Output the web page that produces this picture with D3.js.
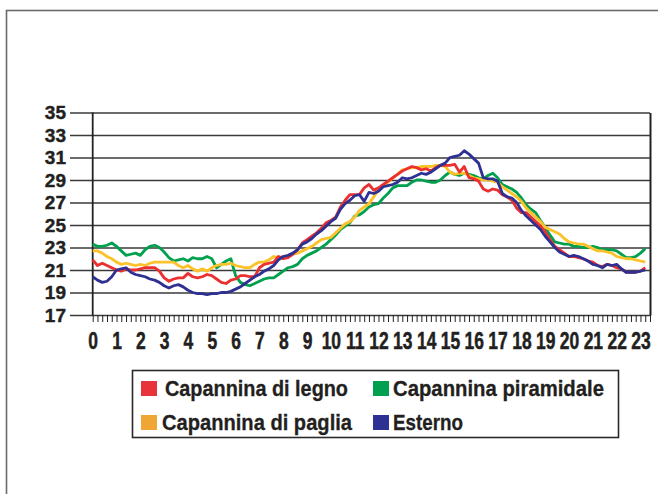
<!DOCTYPE html>
<html>
<head>
<meta charset="utf-8">
<script src="https://cdn.jsdelivr.net/npm/d3@7"></script>
<style>
  body { margin: 0; background: #fff; }
  svg { display: block; }
  .ylab text { font-family: "Liberation Sans", Arial, sans-serif; font-weight: bold; font-size: 19px; fill: #231f20; stroke: #231f20; stroke-width: 0.4px; }
  .xlab text { font-family: "Liberation Sans", Arial, sans-serif; font-weight: bold; font-size: 23px; fill: #231f20; stroke: #231f20; stroke-width: 0.5px; }
  .legend text { font-family: "Liberation Sans", Arial, sans-serif; font-weight: bold; font-size: 22px; fill: #231f20; stroke: #231f20; stroke-width: 0.3px; }
</style>
</head>
<body>
<script>
// hour labels along the x axis
var hourLabels = [0,1,2,3,4,5,6,7,8,9,10,11,12,13,14,15,16,17,18,19,20,21,22,23];
var yTicks = [17,19,21,23,25,27,29,31,33,35];

// readings every 12 minutes (0.2 h), from 0:00 to 23:12
var legno = [
  21.9,21.4,21.6,21.4,21.2, 21.0,20.9,21.1,21.0,21.0, 21.1,21.2,21.2,21.2,20.9,
  20.3,20.0,20.2,20.3,20.3, 20.7,20.4,20.3,20.4,20.6, 20.5,20.2,19.9,19.8,20.1,
  20.2,20.5,20.5,20.4,20.4, 21.2,21.5,21.6,21.7,22.2, 22.0,22.1,22.4,22.8,23.4,
  23.7,24.0,24.3,24.7,25.2, 25.4,25.7,26.6,27.2,27.7, 27.7,27.7,28.3,28.6,28.1,
  28.3,28.6,28.9,29.2,29.5, 29.8,30.0,30.2,30.1,29.9, 30.0,29.8,30.1,30.3,30.3,
  30.3,30.4,29.7,30.2,29.2, 29.1,28.9,28.2,28.0,28.2, 28.1,27.7,27.5,27.2,26.5,
  26.1,26.1,25.7,25.3,24.9, 24.4,23.7,23.1,22.8,22.5, 22.2,22.2,22.1,22.0,21.8,
  21.7,21.4,21.3,21.5,21.4, 21.2,21.1,20.8,20.8,20.8, 20.9,21.2
];
var piramidale = [
  23.3,23.1,23.1,23.2,23.4, 23.1,22.7,22.3,22.4,22.5, 22.3,22.8,23.1,23.2,23.0,
  22.6,22.1,21.8,21.9,22.0, 21.8,22.1,22.0,22.0,22.2, 22.0,21.2,21.5,21.8,22.0,
  20.5,19.9,19.7,19.6,19.8, 20.0,20.2,20.3,20.3,20.6, 20.9,21.2,21.3,21.5,22.0,
  22.3,22.5,22.7,23.0,23.3, 23.7,24.1,24.6,24.9,25.2, 25.8,25.9,26.2,26.6,26.8,
  26.9,27.4,27.8,28.3,28.5, 28.5,28.5,28.8,29.0,29.0, 28.9,28.8,28.8,29.0,29.4,
  29.7,29.5,29.4,29.6,29.5, 29.4,29.2,29.1,29.4,29.6, 29.2,28.6,28.4,28.2,27.9,
  27.4,26.8,26.4,26.1,25.4, 24.8,24.1,23.5,23.4,23.3, 23.3,23.1,23.1,23.0,23.0,
  23.1,23.0,22.8,22.8,22.8, 22.7,22.4,22.1,22.1,22.2, 22.5,22.9
];
var paglia = [
  22.7,22.7,22.5,22.2,22.0, 21.7,21.5,21.6,21.5,21.4, 21.5,21.4,21.6,21.7,21.7,
  21.7,21.7,21.7,21.4,21.2, 21.4,21.1,20.9,21.1,20.9, 21.2,21.4,21.5,21.5,21.6,
  21.4,21.3,21.2,21.2,21.5, 21.7,21.7,21.9,22.2,22.1, 22.2,22.2,22.4,22.5,22.7,
  22.9,23.1,23.4,23.7,23.8, 23.9,24.3,24.7,25.1,25.3, 25.7,26.3,26.6,26.9,27.5,
  28.1,28.5,28.8,29.2,29.5, 29.9,30.0,30.1,30.1,30.2, 30.2,30.2,30.3,30.3,30.2,
  29.7,29.5,29.6,29.6,29.4, 29.2,29.1,29.0,29.0,28.9, 28.8,28.4,28.1,27.8,27.5,
  27.1,26.5,26.1,25.7,25.3, 24.8,24.6,24.4,24.2,23.8, 23.5,23.4,23.3,23.3,23.1,
  22.9,22.7,22.7,22.6,22.5, 22.2,22.1,22.0,22.0,21.9, 21.8,21.7
];
var esterno = [
  20.4,20.1,19.9,20.0,20.4, 21.0,21.1,21.2,20.8,20.6, 20.5,20.4,20.2,20.1,19.9,
  19.6,19.4,19.6,19.7,19.5, 19.2,19.0,18.9,18.9,18.8, 18.9,18.9,19.0,19.0,19.1,
  19.3,19.5,19.8,20.1,20.4, 20.6,20.9,21.1,21.4,21.9, 22.2,22.3,22.5,22.8,23.3,
  23.5,23.8,24.2,24.5,24.9, 25.3,25.6,26.4,26.9,27.2, 27.6,27.7,27.1,27.9,27.8,
  28.0,28.4,28.5,28.6,28.8, 29.2,29.1,29.2,29.4,29.6, 29.5,29.7,30.0,30.3,30.5,
  31.0,31.1,31.2,31.6,31.3, 30.9,30.5,29.2,29.1,29.1, 28.9,27.8,27.5,27.4,27.0,
  26.3,25.8,25.4,25.0,24.6, 24.0,23.5,23.0,22.6,22.4, 22.2,22.3,22.2,22.0,21.8,
  21.5,21.4,21.2,21.5,21.4, 21.5,21.1,20.8,20.8,20.8, 20.9,21.0
];

var seriesNames = ["Capannina di legno", "Capannina piramidale", "Capannina di paglia", "Esterno"];
var lineColors = ["#ec2f2f", "#00a04f", "#fcc22a", "#2e3192"];
var swatchColors = ["#e8333a", "#00a050", "#efa635", "#2e3192"];

var width = 658, height = 494;

var svg = d3.select("body").append("svg")
    .attr("width", width)
    .attr("height", height);

// outer frame (only left and top edges fall inside the picture)
svg.append("rect")
    .attr("x", 6.5).attr("y", 10.5)
    .attr("width", 700).attr("height", 600)
    .attr("fill", "none")
    .attr("stroke", "#6a6a6a")
    .attr("stroke-width", 1.6);

var x = d3.scaleLinear().domain([0, 23.4]).range([92.7, 650]);
var y = d3.scaleLinear().domain([17, 35]).range([315, 112.5]);

var minorTicks = d3.range(0, 23.41, 0.2);

// gridlines + y labels, axis sits on the right border
svg.append("g")
    .attr("class", "ylab")
    .attr("transform", "translate(" + x(23.4) + ",0)")
    .call(d3.axisLeft(y).tickValues(yTicks).tickSize(x(23.4) - 70).tickSizeOuter(0).tickPadding(4))
    .call(function(g) {
        g.select(".domain").attr("stroke", "#222").attr("stroke-width", 2);
        g.selectAll(".tick line").attr("stroke", "#3a3a3a").attr("stroke-width", 1.6);
    });

// left axis line
svg.append("line")
    .attr("x1", x(0)).attr("x2", x(0))
    .attr("y1", y(35)).attr("y2", y(17))
    .attr("stroke", "#222").attr("stroke-width", 1.8);

// small ticks under the x axis
svg.append("g")
    .attr("transform", "translate(0," + y(17) + ")")
    .call(d3.axisBottom(x).tickValues(minorTicks).tickSize(7).tickFormat(""))
    .call(function(g) {
        g.select(".domain").remove();
        g.selectAll(".tick line").attr("stroke", "#222").attr("stroke-width", 1);
    });

// hour labels, squeezed like a condensed face
svg.append("g")
    .attr("class", "xlab")
    .attr("transform", "translate(0," + y(17) + ")")
    .call(d3.axisBottom(x).tickValues(hourLabels).tickSize(0).tickPadding(18).tickFormat(d3.format("d")))
    .call(function(g) {
        g.select(".domain").remove();
        g.selectAll(".tick text").attr("transform", "scale(0.76,1)");
    });

var line = d3.line()
    .x(function(d, i) { return x(minorTicks[i]); })
    .y(function(d) { return y(d); });

var allSeries = [legno, piramidale, paglia, esterno];
var drawOrder = [1, 2, 0, 3];

drawOrder.forEach(function(k) {
    svg.append("path")
        .datum(allSeries[k])
        .attr("fill", "none")
        .attr("stroke", lineColors[k])
        .attr("stroke-width", 2.8)
        .attr("stroke-linejoin", "round")
        .attr("d", line);
});

// legend
var legend = svg.append("g").attr("class", "legend");
legend.append("rect")
    .attr("x", 132.5).attr("y", 370.5)
    .attr("width", 486).attr("height", 67)
    .attr("fill", "#fff")
    .attr("stroke", "#2a2a2a")
    .attr("stroke-width", 1.6);

var legendPos = [[141, 381], [373, 381], [141, 415], [373, 415]];
var textStart = [165, 393, 162, 393];
var textWidth = [183, 211, 190, 70];

seriesNames.forEach(function(name, i) {
    var p = legendPos[i];
    legend.append("rect")
        .attr("x", p[0]).attr("y", p[1])
        .attr("width", 16).attr("height", 15)
        .attr("fill", swatchColors[i]);
    legend.append("text")
        .attr("x", textStart[i])
        .attr("y", p[1] + 15)
        .attr("textLength", textWidth[i])
        .attr("lengthAdjust", "spacingAndGlyphs")
        .text(name);
});
</script>
</body>
</html>
